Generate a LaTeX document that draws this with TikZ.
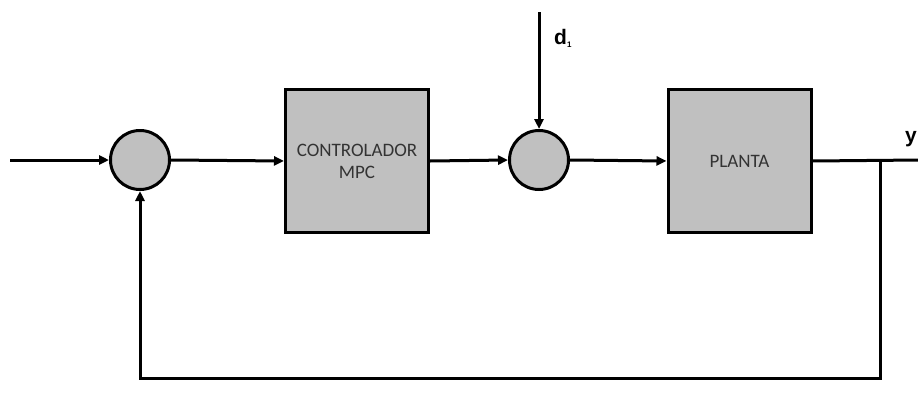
\documentclass[tikz,border=0pt]{standalone}
\usepackage{fontspec}
\setmainfont{Carlito}
\newfontfamily\labfont{Liberation Sans}
\usetikzlibrary{arrows.meta}
\definecolor{blockgray}{HTML}{C0C0C0}
\definecolor{txtgray}{HTML}{333333}
\tikzset{
  sumnode/.style={circle, draw=black, line width=3pt, fill=blockgray, minimum size=59pt, inner sep=0pt},
  blocknode/.style={rectangle, draw=black, line width=3pt, fill=blockgray, minimum width=143pt, minimum height=143pt, inner sep=0pt, align=center, text=txtgray, font=\fontsize{19}{22}\selectfont},
  sig/.style={line width=3pt, -{Triangle[length=10pt,width=9pt]}},
  wire/.style={line width=3pt},
  lab/.style={font=\labfont\bfseries\fontsize{21}{21}\selectfont, inner sep=0pt}
}
\begin{document}
\begin{tikzpicture}[x=1pt,y=-1pt]
\useasboundingbox (0,0) rectangle (918,407);
\coordinate (in) at (10,160);
\node[sumnode] (s1) at (140,160) {};
\node[blocknode] (ctrl) at (357,161) {CONTROLADOR\\MPC};
\node[sumnode] (s2) at (539,160) {};
\node[blocknode] (plant) at (739.5,161) {PLANTA};
\coordinate (dtop) at (539,12);
\coordinate (br) at (880,160);
\coordinate (out) at (920,160);
\coordinate (fbr) at (880,378);
\coordinate (fbl) at (140,378);
\node[lab, anchor=base west] (dl) at (554,44) {d\raisebox{-3pt}{\fontsize{8}{8}\selectfont 1}};
\node[lab, anchor=base east] (yl) at (917,142) {y};
\draw[sig] (in) -- (s1.west);
\draw[sig] (s1.east) -- (ctrl.west);
\draw[sig] (ctrl.east) -- (s2.west);
\draw[sig] (dtop) -- (s2.north);
\draw[sig] (s2.east) -- (plant.west);
\draw[wire] (plant.east) -- (out);
\draw[sig] (br) -- (fbr) -- (fbl) -- (s1.south);
\end{tikzpicture}
\end{document}
